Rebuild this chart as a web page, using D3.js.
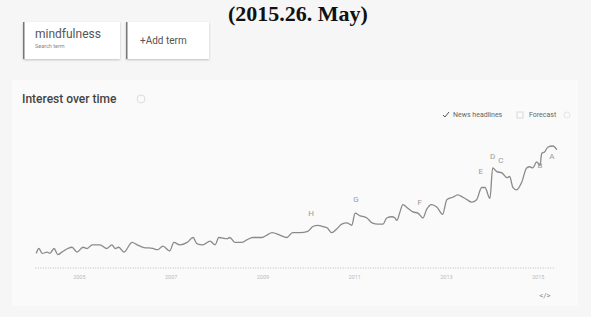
<!DOCTYPE html>
<html>
<head>
<meta charset="utf-8">
<script src="https://cdn.jsdelivr.net/npm/d3@7"></script>
<style>
  body { margin: 0; background: #f6f6f6; }
  svg { display: block; font-family: Roboto, "Noto Sans", sans-serif; }
</style>
</head>
<body>
<svg width="591" height="317"></svg>
<script>

// time points (decimal year) and interest values
const dates = [
  2004.07, 2004.13, 2004.20, 2004.31, 2004.37, 2004.46, 2004.54, 2004.63, 2004.76, 2004.85, 2004.96,
  2005.09, 2005.18, 2005.29, 2005.46, 2005.61, 2005.72, 2005.79, 2005.87, 2005.98,
  2006.16, 2006.27, 2006.40, 2006.61, 2006.72, 2006.83, 2006.98,
  2007.07, 2007.20, 2007.36, 2007.49, 2007.57, 2007.70, 2007.86, 2007.97,
  2008.05, 2008.23, 2008.29, 2008.40, 2008.55, 2008.66, 2008.79, 2008.90, 2008.99,
  2009.10, 2009.21, 2009.38, 2009.53, 2009.66, 2009.82, 2009.99,
  2010.10, 2010.21, 2010.32, 2010.41, 2010.51, 2010.62, 2010.73, 2010.84, 2010.95,
  2011.02, 2011.12, 2011.28, 2011.39, 2011.52, 2011.63, 2011.71, 2011.82, 2011.89, 2011.93,
  2012.00, 2012.06, 2012.17, 2012.28, 2012.39, 2012.50, 2012.58, 2012.69, 2012.80, 2012.93,
  2013.02, 2013.15, 2013.26, 2013.37, 2013.46, 2013.56, 2013.67, 2013.78, 2013.85, 2013.96,
  2014.02, 2014.11, 2014.22, 2014.33, 2014.39, 2014.46, 2014.54, 2014.65, 2014.76, 2014.83, 2014.89, 2014.98,
  2015.05, 2015.09, 2015.15, 2015.22, 2015.33, 2015.42
];
const interest = [
  12, 16, 12, 13, 12, 16, 11, 13, 16, 17, 13,
  17, 16, 19, 19, 16, 19, 16, 17, 13,
  21, 19, 17, 16, 15, 18, 14,
  21, 19, 21, 25, 20, 19, 22, 19,
  25, 24, 25, 21, 21, 23, 25, 25, 25,
  27, 29, 27, 25, 29, 29, 30,
  34, 35, 34, 33, 29, 32, 36, 37, 35,
  45, 43, 41, 37, 36, 36, 41, 42, 41, 39,
  46, 52, 49, 46, 45, 41, 48, 52, 50, 44,
  56, 58, 60, 58, 56, 54, 56, 66, 66, 57,
  82, 79, 78, 74, 75, 66, 64, 70, 82, 83, 82, 87,
  84, 94, 95, 99, 100, 97
];

// news headline markers
const newsLetters = ["H", "G", "F", "E", "D", "C", "B", "A"];
const newsDates = [2010.06, 2011.04, 2012.43, 2013.76, 2014.02, 2014.20, 2015.05, 2015.31];
const newsLevels = [44, 56, 53, 79, 91, 88, 84, 91];

const yearTicks = [2005, 2007, 2009, 2011, 2013, 2015];

const svg = d3.select("svg");

// page title above the screenshot
svg.append("text")
  .attr("x", 298)
  .attr("y", 21)
  .attr("text-anchor", "middle")
  .style("font-family", "'Liberation Serif', 'DejaVu Serif', serif")
  .style("font-weight", "bold")
  .style("font-size", "22px")
  .style("fill", "#111")
  .text("(2015.26. May)");

// search term cards
const cardShadow = svg.append("defs").append("filter")
  .attr("id", "shadow")
  .attr("x", "-20%").attr("y", "-20%")
  .attr("width", "140%").attr("height", "140%");
cardShadow.append("feDropShadow")
  .attr("dx", 0).attr("dy", 1)
  .attr("stdDeviation", 1.2)
  .attr("flood-color", "#000")
  .attr("flood-opacity", 0.22);

svg.append("rect")
  .attr("x", 12).attr("y", 80)
  .attr("width", 566).attr("height", 226)
  .attr("fill", "#fafafa");

function card(x, w) {
  svg.append("rect")
    .attr("x", x).attr("y", 22)
    .attr("width", w).attr("height", 37)
    .attr("fill", "#fff")
    .attr("filter", "url(#shadow)");
  svg.append("rect")
    .attr("x", x).attr("y", 22)
    .attr("width", 1.5).attr("height", 37)
    .attr("fill", "#777");
}
card(23, 97);
card(126, 83);

svg.append("text")
  .attr("x", 35).attr("y", 38)
  .style("font-size", "12px")
  .style("fill", "#555")
  .text("mindfulness");

svg.append("text")
  .attr("x", 35).attr("y", 48)
  .style("font-size", "5.5px")
  .style("fill", "#888")
  .text("Search term");

svg.append("text")
  .attr("x", 140).attr("y", 44)
  .style("font-size", "10px")
  .style("fill", "#555")
  .text("+Add term");

// section heading
svg.append("text")
  .attr("x", 22).attr("y", 103)
  .style("font-size", "12px")
  .style("font-weight", 500)
  .style("fill", "#444")
  .text("Interest over time");

svg.append("circle")
  .attr("cx", 141).attr("cy", 99).attr("r", 4)
  .attr("fill", "none").attr("stroke", "#ddd");

// legend
svg.append("path")
  .attr("d", "M443,115 l2,2 l4,-5")
  .attr("fill", "none")
  .attr("stroke", "#555")
  .attr("stroke-width", 1);
svg.append("text")
  .attr("x", 453).attr("y", 117)
  .style("font-size", "7px")
  .style("fill", "#666")
  .text("News headlines");
svg.append("rect")
  .attr("x", 517).attr("y", 112)
  .attr("width", 6).attr("height", 6)
  .attr("fill", "none").attr("stroke", "#ccc").attr("stroke-width", 0.7);
svg.append("text")
  .attr("x", 529).attr("y", 117)
  .style("font-size", "7px")
  .style("fill", "#666")
  .text("Forecast");
svg.append("circle")
  .attr("cx", 567).attr("cy", 115).attr("r", 3)
  .attr("fill", "none").attr("stroke", "#ddd").attr("stroke-width", 0.7);

// chart
const x = d3.scaleLinear().domain([2004, 2015.4]).range([33, 556]);
const y = d3.scaleLinear().domain([0, 100]).range([268, 146]);

svg.append("line")
  .attr("x1", x(2004.05)).attr("x2", x(2015.37))
  .attr("y1", y(0)).attr("y2", y(0))
  .attr("stroke", "#bbb")
  .attr("stroke-dasharray", "1,1.5");

const xAxis = svg.append("g")
  .attr("transform", `translate(0,${y(0) + 4})`)
  .call(d3.axisBottom(x).tickValues(yearTicks).tickSize(0).tickFormat(d3.format("d")));
xAxis.select(".domain").remove();
xAxis.selectAll("text")
  .style("font-size", "5.5px")
  .style("fill", "#bbb")
  .style("font-family", "Roboto, sans-serif");

const points = dates.map((d, i) => [d, interest[i]]);

svg.append("path")
  .datum(points)
  .attr("fill", "none")
  .attr("stroke", "#8a8a8a")
  .attr("stroke-width", 1.3)
  .attr("stroke-linejoin", "round")
  .attr("d", d3.line().x(d => x(d[0])).y(d => y(d[1])).curve(d3.curveMonotoneX));

const news = svg.append("g").attr("class", "news");
newsLetters.forEach((letter, i) => {
  news.append("text")
    .attr("x", x(newsDates[i]))
    .attr("y", y(newsLevels[i]))
    .attr("text-anchor", "middle")
    .attr("dominant-baseline", "middle")
    .style("font-size", "8px")
    .style("fill", "#999")
    .text(letter);
});

// embed icon
svg.append("text")
  .attr("x", 545).attr("y", 298)
  .attr("text-anchor", "middle")
  .style("font-size", "8px")
  .style("fill", "#888")
  .text("</>");

</script>
</body>
</html>
